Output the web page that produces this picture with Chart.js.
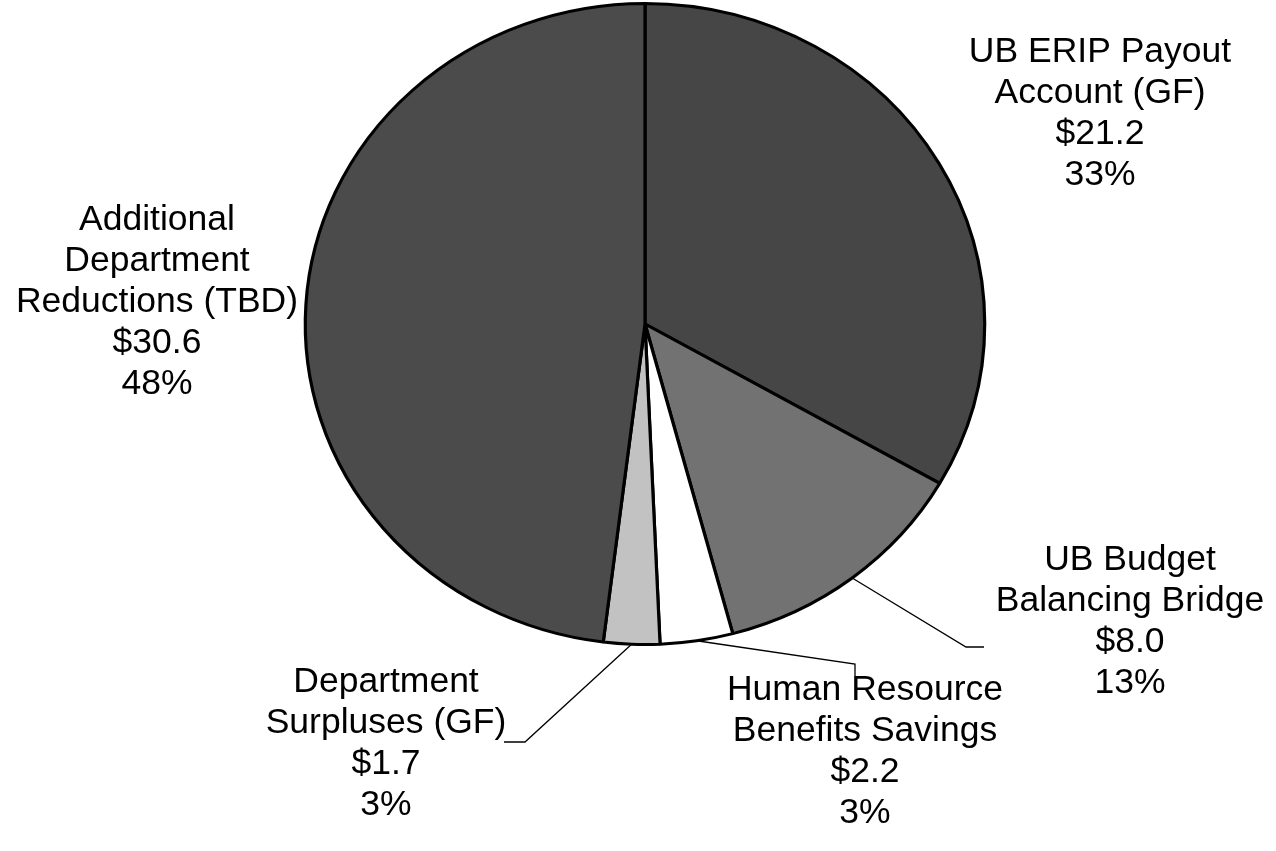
<!DOCTYPE html>
<html>
<head>
<meta charset="utf-8">
<script src="https://cdn.jsdelivr.net/npm/chart.js@4.4.1/dist/chart.umd.min.js"></script>
<style>
  html, body { margin: 0; padding: 0; background: #fff; }
  canvas { display: block; }
</style>
</head>
<body>
<canvas id="chartPlan" width="1276" height="851"></canvas>
<script>
// Categorías y montos (millones) en el orden de las agujas del reloj desde arriba
const categorias = [
  ['UB ERIP Payout', 'Account (GF)'],
  ['UB Budget', 'Balancing Bridge'],
  ['Human Resource', 'Benefits Savings'],
  ['Department', 'Surpluses (GF)'],
  ['Additional', 'Department', 'Reductions (TBD)']
];
const montos = [21.2, 8.0, 2.2, 1.7, 30.6];
const colores = ['#464646', '#727272', '#ffffff', '#c2c2c2', '#4b4b4b'];

// Posición de cada etiqueta: centro x y línea base de la primera fila
const posEtiquetas = [
  { x: 1100, y: 62 },
  { x: 1130, y: 570 },
  { x: 865, y: 700 },
  { x: 386, y: 692 },
  { x: 157, y: 230 }
];
// Quiebres de las líneas guía (null = sin línea)
const guias = [
  null,
  [[966, 647], [984, 647]],
  [[855, 664], [855, 676]],
  [[525, 742], [504, 742]],
  null
];

const ESCALA_X = 1.06;
const ALTO_LINEA = 41;

const total = montos.reduce((a, b) => a + b, 0);

function textoEtiqueta(i) {
  const pct = Math.round(montos[i] / total * 100);
  return [...categorias[i], '$' + montos[i].toFixed(1), pct + '%'];
}

// El pastel original es algo más ancho que alto
const estirarPastel = {
  id: 'estirarPastel',
  beforeDatasetsDraw(chart) {
    const arc = chart.getDatasetMeta(0).data[0];
    const ctx = chart.ctx;
    ctx.save();
    ctx.translate(arc.x, arc.y);
    ctx.scale(ESCALA_X, 1);
    ctx.translate(-arc.x, -arc.y);
  },
  afterDatasetsDraw(chart) {
    chart.ctx.restore();
  }
};

const etiquetas = {
  id: 'etiquetas',
  afterDraw(chart) {
    const ctx = chart.ctx;
    const arcs = chart.getDatasetMeta(0).data;
    ctx.save();
    // Líneas guía desde el borde del pastel
    ctx.strokeStyle = '#000';
    ctx.lineWidth = 1.3;
    arcs.forEach((arc, i) => {
      if (!guias[i]) return;
      const medio = (arc.startAngle + arc.endAngle) / 2;
      const r = arc.outerRadius;
      const x0 = arc.x + Math.cos(medio) * r * ESCALA_X;
      const y0 = arc.y + Math.sin(medio) * r;
      ctx.beginPath();
      ctx.moveTo(x0, y0);
      guias[i].forEach(p => ctx.lineTo(p[0], p[1]));
      ctx.stroke();
    });
    // Textos
    ctx.fillStyle = '#000';
    ctx.font = '35.5px "Liberation Sans", Arial, sans-serif';
    ctx.textAlign = 'center';
    ctx.textBaseline = 'alphabetic';
    arcs.forEach((arc, i) => {
      const p = posEtiquetas[i];
      textoEtiqueta(i).forEach((linea, k) => {
        ctx.fillText(linea, p.x, p.y + k * ALTO_LINEA);
      });
    });
    ctx.restore();
  }
};

new Chart(document.getElementById('chartPlan'), {
  type: 'pie',
  data: {
    labels: categorias.map(c => c.join(' ')),
    datasets: [{
      data: montos,
      backgroundColor: colores,
      borderColor: '#000',
      borderWidth: 3
    }]
  },
  options: {
    responsive: false,
    animation: false,
    layout: { padding: { top: 2, bottom: 205, left: 300, right: 286 } },
    plugins: {
      legend: { display: false },
      tooltip: { enabled: false }
    }
  },
  plugins: [estirarPastel, etiquetas]
});
</script>
</body>
</html>
